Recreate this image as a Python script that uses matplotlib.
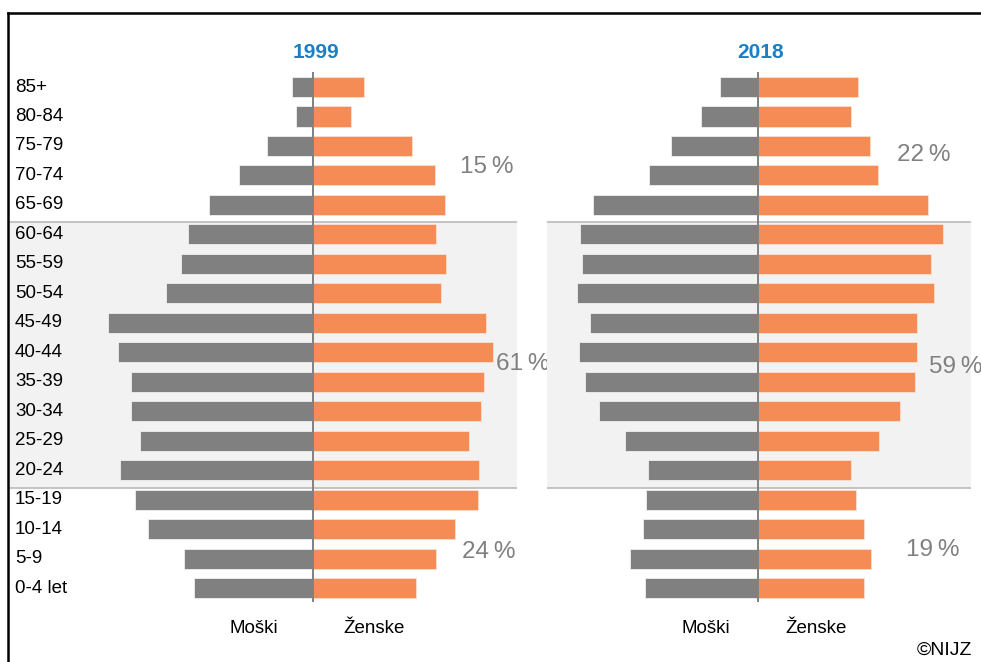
import matplotlib.pyplot as plt
from matplotlib.lines import Line2D

plt.rcParams['font.family'] = ['Liberation Sans', 'DejaVu Sans']

# starostne skupine (od spodaj navzgor)
starost = ["0-4 let", "5-9", "10-14", "15-19", "20-24", "25-29", "30-34", "35-39",
           "40-44", "45-49", "50-54", "55-59", "60-64", "65-69", "70-74", "75-79",
           "80-84", "85+"]

# 1999
moski_1999 = [119, 129, 165, 178, 193, 173, 182, 182, 195, 205, 147, 132, 125, 104, 74, 46, 17, 21]
zenske_1999 = [103, 123, 142, 165, 166, 156, 168, 171, 180, 173, 128, 133, 123, 132, 122, 99, 38, 51]

# 2018
moski_2018 = [113, 128, 115, 112, 110, 133, 159, 173, 179, 168, 181, 176, 178, 165, 109, 87, 57, 38]
zenske_2018 = [106, 113, 106, 98, 93, 121, 142, 157, 159, 159, 176, 173, 185, 170, 120, 112, 93, 100]

leti = ["1999", "2018"]
delezi_1999 = ["15\u2009%", "61\u2009%", "24\u2009%"]
delezi_2018 = ["22\u2009%", "59\u2009%", "19\u2009%"]

SIVA = "#808080"
ORANZNA = "#F68C55"
MODRA = "#1B7FC4"

W, H = 981, 662
fig = plt.figure(figsize=(W / 100, H / 100), dpi=100)


def px_axes(x0, x1, y0, y1):
    return fig.add_axes([x0 / W, 1 - y1 / H, (x1 - x0) / W, (y1 - y0) / H])


def piramida(ax, leto, moski, zenske, delezi, xlim, pos_delez, pos_spol, z_oznakami):
    y = list(range(len(starost)))
    ax.set_xlim(*xlim)
    ax.set_ylim(-0.475, 17.51)
    ax.axis("off")

    # osenčen del (20-64 let)
    ax.axhspan(3.38, 12.43, color="#F2F2F2", zorder=0, lw=0)
    ax.axhline(3.38, color="#BFBFBF", lw=1.3, zorder=1)
    ax.axhline(12.43, color="#BFBFBF", lw=1.3, zorder=1)

    ax.barh(y, [-m for m in moski], height=0.68, color=SIVA, edgecolor="#f0f0f0", lw=0.6, zorder=2)
    ax.barh(y, zenske, height=0.68, color=ORANZNA, edgecolor="#fbe0d0", lw=0.6, zorder=2)
    ax.axvline(0, color=SIVA, lw=1.4, zorder=3)

    ax.text(3, 18.16, leto, ha="center", va="center", fontsize=15, fontweight="bold",
            color=MODRA, clip_on=False)

    if z_oznakami:
        for i, s in enumerate(starost):
            ax.text(xlim[0] + 5, i, s, ha="left", va="center", fontsize=13.5, color="black")

    for (px, py), d in zip(pos_delez, delezi):
        ax.text(px, py, d, ha="center", va="center", fontsize=17.5, color=SIVA, clip_on=False)

    ax.text(pos_spol[0], -1.38, "Moški", ha="center", va="center", fontsize=13.5, clip_on=False)
    ax.text(pos_spol[1], -1.38, "Ženske", ha="center", va="center", fontsize=13.5, clip_on=False)


ax1 = px_axes(10, 517, 72, 602)
piramida(ax1, leti[0], moski_1999, zenske_1999, delezi_1999, (-303, 204),
         [(174, 14.3), (210, 7.6), (176, 1.22)], (-59, 61), True)

ax2 = px_axes(547, 971, 72, 602)
piramida(ax2, leti[1], moski_2018, zenske_2018, delezi_2018, (-210.5, 213.5),
         [(166, 14.7), (198, 7.5), (175, 1.29)], (-52, 59), False)

# okvir
fig.add_artist(Line2D([8 / W, 8 / W], [0, 1 - 13 / H], color="black", lw=1.8))
fig.add_artist(Line2D([8 / W, 1], [1 - 13 / H, 1 - 13 / H], color="black", lw=1.8))

fig.text(972 / W, 1 - 650 / H, "©NIJZ", ha="right", va="center", fontsize=14)

fig.savefig("out.png", dpi=100)
